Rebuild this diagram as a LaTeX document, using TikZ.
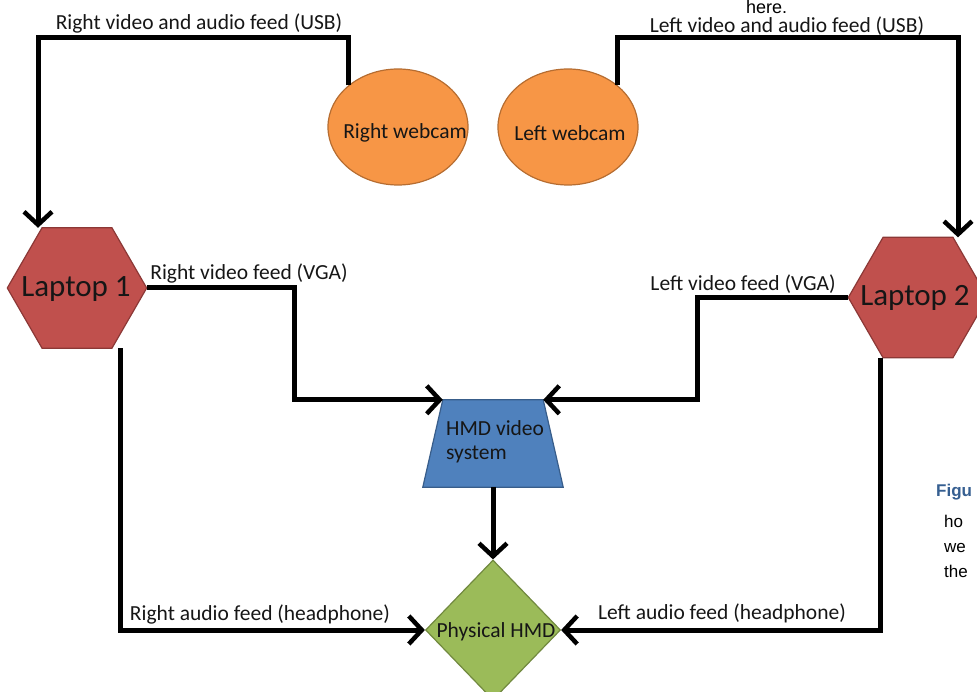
\documentclass[tikz,border=0pt]{standalone}
\usepackage{fontspec}
\setmainfont{Carlito}
\newfontfamily\arialfont{Liberation Sans}
\usetikzlibrary{shapes.geometric,arrows.meta}
\definecolor{camfill}{HTML}{F79646}
\definecolor{camedge}{HTML}{B66D31}
\definecolor{lapfill}{HTML}{C0504D}
\definecolor{lapedge}{HTML}{8C3836}
\definecolor{hmdfill}{HTML}{4F81BD}
\definecolor{hmdedge}{HTML}{385D8A}
\definecolor{phyfill}{HTML}{9BBB59}
\definecolor{phyedge}{HTML}{71893F}
\definecolor{capblue}{HTML}{365F91}
\definecolor{txt}{HTML}{161616}
\tikzset{
  cam/.style={ellipse,draw=camedge,fill=camfill,line width=1.2pt,minimum width=140pt,minimum height=116pt,inner sep=0pt},
  lapbox/.style={rectangle,minimum width=139pt,minimum height=120pt,inner sep=0pt},
  hexpath/.style={draw=lapedge,fill=lapfill,line width=1.2pt},
  laptxt/.style={font=\fontsize{31}{33}\selectfont,text=txt,inner sep=0pt},
  phy/.style={diamond,draw=phyedge,fill=phyfill,line width=1.2pt,minimum width=135pt,minimum height=140pt,inner sep=0pt},
  boxtxt/.style={font=\fontsize{21.5}{23}\selectfont,text=txt,inner sep=0pt},
  lbl/.style={font=\fontsize{21.5}{23}\selectfont,text=txt,inner sep=0pt},
  conn/.style={line width=5pt,-{Straight Barb[length=13pt,width=28pt,line width=4.5pt]}},
  doctxt/.style={font=\arialfont\fontsize{17}{19}\selectfont,inner sep=0pt,anchor=base west}
}
\begin{document}
\begin{tikzpicture}[x=1pt,y=-1pt]
\useasboundingbox (0,0) rectangle (977,692);
\begin{scope}
\clip (0,0) rectangle (977,692);
% webcams
\node[cam] (rcam) at (398,127) {};
\node[cam] (lcam) at (568,127) {};
\node[boxtxt] (rcamtxt) at (405,133) {Right webcam};
\node[boxtxt] (lcamtxt) at (570,133) {Left webcam};
% laptops
\node[lapbox] (lap1) at (77,288) {};
\draw[hexpath] (lap1.west) -- ([xshift=34.75pt]lap1.north west) -- ([xshift=-34.75pt]lap1.north east) -- (lap1.east) -- ([xshift=-34.75pt]lap1.south east) -- ([xshift=34.75pt]lap1.south west) -- cycle;
\node[laptxt] (lap1txt) at (76,289) {Laptop 1};
\node[lapbox] (lap2) at (918,297.5) {};
\draw[hexpath] (lap2.west) -- ([xshift=34.75pt]lap2.north west) -- ([xshift=-34.75pt]lap2.north east) -- (lap2.east) -- ([xshift=-34.75pt]lap2.south east) -- ([xshift=34.75pt]lap2.south west) -- cycle;
\node[laptxt] (lap2txt) at (915,298) {Laptop 2};
% HMD video system
\node[minimum width=140pt,minimum height=87pt,inner sep=0pt] (hmd) at (493,443.5) {};
\draw[draw=hmdedge,fill=hmdfill,line width=1.2pt] (hmd.south west) -- (hmd.south east) -- ([xshift=-20pt]hmd.north east) -- ([xshift=20pt]hmd.north west) -- cycle;
\node[boxtxt,anchor=west,align=left] (hmdtxt) at (446,442) {HMD video\\[1pt]system};
% physical HMD
\node[phy] (phy) at (493,630) {};
\node[boxtxt] (phytxt) at (496,632) {Physical HMD};
% connectors
\draw[conn] (rcam.140) -- ++(0,-48) -| ([xshift=-39pt]lap1.north);
\draw[conn] (lcam.40) -- ++(0,-48) -| ([xshift=40pt]lap2.north);
\draw[conn] (lap1.east) -- ++(148,0) |- ([xshift=20pt]hmd.north west);
\draw[conn] (lap2.west) -- ++(-151,0) |- ([xshift=-20pt]hmd.north east);
\draw[conn] ([xshift=43pt]lap1.south) |- (phy.west);
\draw[conn] ([xshift=-38pt]lap2.south) |- (phy.east);
\draw[conn] (hmd.south) -- (phy.north);
% labels
\node[lbl] (l1) at (199,23) {Right video and audio feed (USB)};
\node[lbl] (l2) at (787,26) {Left video and audio feed (USB)};
\node[lbl] (l3) at (249,273) {Right video feed (VGA)};
\node[lbl] (l4) at (743,284) {Left video feed (VGA)};
\node[lbl] (l5) at (260,614) {Right audio feed (headphone)};
\node[lbl] (l6) at (722,613) {Left audio feed (headphone)};
% document fragments
\node[doctxt,font=\arialfont\fontsize{18}{20}\selectfont] (d0) at (746,13.5) {here.};
\node[doctxt,text=capblue,font=\arialfont\bfseries\fontsize{17}{19}\selectfont] (d1) at (936,496) {Figu};
\node[doctxt] (d2) at (944,527) {ho};
\node[doctxt] (d3) at (944,552) {we};
\node[doctxt] (d4) at (944,577) {the};
\end{scope}
\end{tikzpicture}
\end{document}
